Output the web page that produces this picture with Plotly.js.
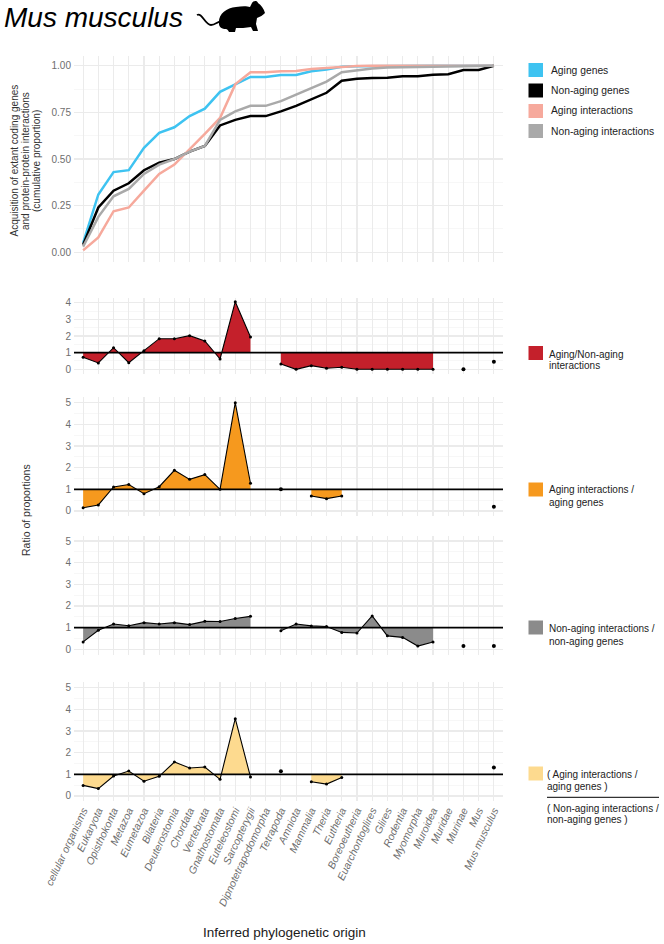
<!DOCTYPE html>
<html><head><meta charset="utf-8">
<script src="https://cdn.plot.ly/plotly-3.0.1.min.js"></script>
<style>html,body{margin:0;padding:0;background:#fff}#chart{width:664px;height:944px}</style>
</head><body><div id="chart"></div><script>
// ---------- data ----------
const categories = ["cellular organisms","Eukaryota","Opisthokonta","Metazoa","Eumetazoa","Bilateria","Deuterostomia","Chordata","Vertebrata","Gnathostomata","Euteleostomi","Sarcopterygii","Dipnotetrapodomorpha","Tetrapoda","Amniota","Mammalia","Theria","Eutheria","Boreoeutheria","Euarchontoglires","Glires","Rodentia","Myomorpha","Muroidea","Muridae","Murinae","Mus","Mus musculus"];

const agingGenes = [0.05,0.31,0.43,0.44,0.56,0.64,0.67,0.73,0.77,0.86,0.90,0.94,0.94,0.95,0.95,0.97,0.98,0.995,0.997,0.998,1.0,1.0,1.0,1.0,1.0,1.0,1.0,1.0];
const nonAgingGenes = [0.04,0.24,0.33,0.37,0.44,0.48,0.50,0.54,0.57,0.68,0.71,0.73,0.73,0.755,0.785,0.82,0.855,0.92,0.93,0.934,0.936,0.943,0.943,0.952,0.954,0.977,0.977,1.0];
const agingInteractions = [0.01,0.08,0.22,0.24,0.33,0.42,0.47,0.55,0.635,0.72,0.90,0.965,0.965,0.97,0.972,0.982,0.987,0.995,0.998,1.0,1.0,1.0,1.0,1.0,1.0,1.0,1.0,1.0];
const nonAgingInteractions = [0.03,0.19,0.30,0.34,0.42,0.47,0.50,0.54,0.57,0.71,0.755,0.785,0.785,0.81,0.845,0.88,0.915,0.965,0.975,0.985,0.99,0.993,0.995,0.995,0.996,0.997,0.998,1.0];

const ratioAgingNonAgingInteractions = [0.72,0.38,1.3,0.4,1.12,1.84,1.84,2.02,1.7,0.62,4.06,1.94,null,0.32,0,0.22,0.06,0.12,0,0,0,0,0,0,null,0,null,0.46];
const ratioAgingInteractionsGenes = [0.15,0.28,1.11,1.22,0.8,1.12,1.88,1.46,1.68,1.0,5.0,1.28,null,1.0,null,0.69,0.57,0.69,null,null,null,null,null,null,null,null,null,0.2];
const ratioNonAgingInteractionsGenes = [0.34,0.88,1.17,1.09,1.23,1.17,1.23,1.14,1.29,1.28,1.42,1.52,null,0.86,1.17,1.08,1.05,0.78,0.75,1.54,0.62,0.55,0.15,0.34,null,0.15,null,0.15];
const ratioOfRatios = [0.49,0.34,0.92,1.15,0.68,0.91,1.57,1.29,1.34,0.77,3.57,0.88,null,1.14,null,0.66,0.55,0.85,null,null,null,null,null,null,null,null,null,1.31];

const baselineRatio = 1;

const chartTitle = "Mus musculus";
const topLegendLabels = ["Aging genes","Non-aging genes","Aging interactions","Non-aging interactions"];
const colors = {agingGenes:"#3ec3f1", nonAgingGenes:"#000000", agingInteractions:"#f6a99c", nonAgingInteractions:"#a9a9a9",
  red:"#c4202b", orange:"#f6991e", gray:"#8b8b8b", yellow:"#fdda8f"};

// ---------- layout helpers ----------
const W = 664, H = 944;
const X0 = 74, X1 = 503;
const FONT = "Liberation Sans, Arial, Helvetica, sans-serif";
const fx = p => p / W;
const fy = p => 1 - p / H;
const dom = (top, bottom) => [fy(bottom), fy(top)];

const panels = [
  {top:56.4,  bottom:261.6, range:[-0.05,1.05], dtick:0.25, minor:0.125, fmt:".2f"},
  {top:298.4, bottom:373.8, range:[-0.27,4.26], dtick:1, minor:0.5, fmt:"d"},
  {top:397.3, bottom:516.4, range:[-0.25,5.25], dtick:1, minor:0.5, fmt:"d"},
  {top:535.6, bottom:654.7, range:[-0.25,5.25], dtick:1, minor:0.5, fmt:"d"},
  {top:682.3, bottom:801.4, range:[-0.25,5.25], dtick:1, minor:0.5, fmt:"d"}
];

const layout = {
  width: W, height: H,
  margin: {l:0, r:0, t:0, b:0},
  paper_bgcolor: "#fff", plot_bgcolor: "#fff",
  showlegend: false,
  font: {family: FONT},
  shapes: [], annotations: []
};

// chart title (as annotation so its box stays inside the page)
layout.annotations.push({text: chartTitle, xref: "paper", yref: "paper", x: fx(3), y: fy(0.5),
  xanchor: "left", yanchor: "top", showarrow: false, borderpad: 0,
  font: {family: FONT, size: 28, color: "#000", style: "italic"}});

panels.forEach((p, k) => {
  const i = k + 1;
  const xs = i === 1 ? "" : String(i);
  layout["xaxis" + xs] = {
    type: "category", categoryorder: "array", categoryarray: categories,
    range: [-0.6, categories.length - 0.4],
    domain: [fx(X0), fx(X1)], anchor: "y" + xs,
    showgrid: true, gridcolor: "#ebebeb", gridwidth: 1.1,
    zeroline: false, showline: false, ticks: "",
    showticklabels: i === 5, tickangle: -65,
    tickfont: {family: FONT, size: 10.5, color: "#6e6e6e", style: "italic"},
    fixedrange: true
  };
  layout["yaxis" + xs] = {
    domain: dom(p.top, p.bottom), anchor: "x" + xs,
    range: p.range, tickmode: "linear", tick0: 0, dtick: p.dtick, tickformat: p.fmt,
    showgrid: true, gridcolor: "#ebebeb", gridwidth: 1.1,
    minor: {tick0: 0, dtick: p.minor, showgrid: true, gridcolor: "#f3f3f3", gridwidth: 0.7},
    zeroline: false, showline: false, ticks: "", ticklabelstandoff: 2,
    tickfont: {family: FONT, size: 10, color: "#6e6e6e"},
    fixedrange: true
  };
  if (i > 1) {
    layout.shapes.push({type: "line", xref: "x" + xs + " domain", x0: 0, x1: 1,
      yref: "y" + xs, y0: baselineRatio, y1: baselineRatio, line: {color: "#000", width: 1.6}, layer: "above"});
  }
});

// ---------- traces ----------
const traces = [];
[[agingGenes, colors.agingGenes, topLegendLabels[0]],
 [nonAgingGenes, colors.nonAgingGenes, topLegendLabels[1]],
 [agingInteractions, colors.agingInteractions, topLegendLabels[2]],
 [nonAgingInteractions, colors.nonAgingInteractions, topLegendLabels[3]]].forEach(([v, c, name]) => {
  traces.push({x: categories, y: v, name: name, mode: "lines", line: {color: c, width: 2.5}, xaxis: "x", yaxis: "y"});
});

function ratioTraces(vals, axisIdx, fillcolor, name) {
  const xa = "x" + axisIdx, ya = "y" + axisIdx;
  const n = vals.length;
  let i = 0;
  while (i < n) {
    if (vals[i] === null) { i++; continue; }
    let j = i;
    while (j + 1 < n && vals[j + 1] !== null) j++;
    const xs = categories.slice(i, j + 1), ys = vals.slice(i, j + 1);
    if (j > i) {
      traces.push({x: xs, y: xs.map(() => baselineRatio), mode: "lines", line: {width: 0, color: "rgba(0,0,0,0)"},
        xaxis: xa, yaxis: ya, hoverinfo: "skip"});
      traces.push({x: xs, y: ys, name: name, mode: "lines+markers", fill: "tonexty", fillcolor: fillcolor,
        line: {color: "#000", width: 1.1}, marker: {size: 3, color: "#000"}, xaxis: xa, yaxis: ya});
    } else {
      traces.push({x: xs, y: ys, name: name, mode: "markers", marker: {size: 4, color: "#000"}, xaxis: xa, yaxis: ya});
    }
    i = j + 1;
  }
}
ratioTraces(ratioAgingNonAgingInteractions, 2, colors.red, "Aging/Non-aging interactions");
ratioTraces(ratioAgingInteractionsGenes, 3, colors.orange, "Aging interactions / aging genes");
ratioTraces(ratioNonAgingInteractionsGenes, 4, colors.gray, "Non-aging interactions / non-aging genes");
ratioTraces(ratioOfRatios, 5, colors.yellow, "Ratio of ratios");

// ---------- legends (keys + text) ----------
function key(x, yc, color) {
  layout.shapes.push({type: "rect", xref: "paper", yref: "paper", x0: fx(x), x1: fx(x + 14.5),
    y0: fy(yc + 7), y1: fy(yc - 7), fillcolor: color, line: {width: 0}});
}
function label(text, x, yc, size) {
  layout.annotations.push({text: text, xref: "paper", yref: "paper", x: fx(x), y: fy(yc),
    xanchor: "left", yanchor: "middle", showarrow: false,
    font: {family: FONT, size: size || 10, color: "#222"}});
}
const topKeyColors = [colors.agingGenes, colors.nonAgingGenes, colors.agingInteractions, colors.nonAgingInteractions];
const topRows = [70, 90.5, 111, 131];
topLegendLabels.forEach((t, k) => { key(528.5, topRows[k], topKeyColors[k]); label(t, 549, topRows[k], 10.3); });

key(528.5, 353, colors.red);
label("Aging/Non-aging", 547, 354); label("interactions", 547, 366);
key(528.5, 489.5, colors.orange);
label("Aging interactions /", 547, 489.5); label("aging genes", 547, 502.5);
key(528.5, 627.5, colors.gray);
label("Non-aging interactions /", 547, 628.5); label("non-aging genes", 547, 641);
key(528.5, 773.5, colors.yellow);
label("( Aging interactions /", 545, 774); label("aging genes )", 545, 786);
layout.shapes.push({type: "line", xref: "paper", yref: "paper", x0: fx(547), x1: fx(659), y0: fy(797.3), y1: fy(797.3),
  line: {color: "#000", width: 1}});
label("( Non-aging interactions /", 545, 808.7); label("non-aging genes )", 545, 819.5);

// ---------- axis titles ----------
const yTitleLines = ["Acquisition of extant coding genes", "and protein-protein interactions", "(cumulative proportion)"];
[13.5, 25, 36].forEach((x, k) => {
  layout.annotations.push({text: yTitleLines[k], xref: "paper", yref: "paper", x: fx(x), y: fy(161),
    xanchor: "center", yanchor: "middle", textangle: -90, showarrow: false,
    font: {family: FONT, size: 10, color: "#333"}});
});
layout.annotations.push({text: "Ratio of proportions", xref: "paper", yref: "paper", x: fx(26), y: fy(510),
  xanchor: "center", yanchor: "middle", textangle: -90, showarrow: false,
  font: {family: FONT, size: 10.5, color: "#333"}});
layout.annotations.push({text: "Inferred phylogenetic origin", xref: "paper", yref: "paper", x: fx(284), y: fy(932),
  xanchor: "center", yanchor: "middle", showarrow: false,
  font: {family: FONT, size: 13.5, color: "#1a1a1a"}});

// ---------- mouse silhouette ----------
function pxPath(d) {
  return d.replace(/(-?\d+\.?\d*)[ ,](-?\d+\.?\d*)/g, (m, a, b) => fx(+a).toFixed(5) + "," + fy(+b).toFixed(5));
}
layout.shapes.push({type: "path", xref: "paper", yref: "paper", fillcolor: "#000", line: {width: 0},
  path: pxPath("M 219 24 C 218 14, 226 8, 236 7 C 242 6, 247 6, 250 7 L 252 3 C 253 1, 257 0, 258 3 C 261 5, 264 9, 265 13 C 263 15, 260 17, 257 18 L 256 24 L 258 31 L 253 31 L 251 27 C 246 28, 240 28, 236 28 L 235 32 L 229 32 C 228 30, 227 29, 226 29 C 222 29, 219 27, 219 24 Z")});
layout.shapes.push({type: "path", xref: "paper", yref: "paper", line: {color: "#000", width: 1.8},
  path: pxPath("M 197 15 C 202 12, 205 25, 211 25 C 215 25, 217 22, 221 21")});

Plotly.newPlot("chart", traces, layout, {staticPlot: true, displayModeBar: false});
</script></body></html>
